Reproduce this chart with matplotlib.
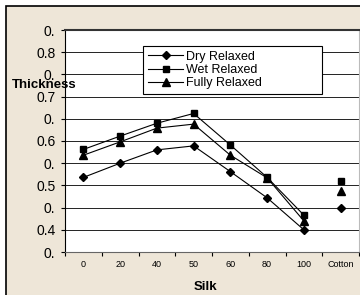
import numpy as np
import matplotlib.pyplot as plt
from matplotlib.patches import Rectangle

plt.rcParams['font.family'] = 'Liberation Sans'

# data
categories = ['0', '20', '40', '50', '60', '80', '100', 'Cotton']
dry = [0.518, 0.550, 0.580, 0.589, 0.531, 0.472, 0.400, 0.448]
wet = [0.581, 0.611, 0.640, 0.662, 0.591, 0.518, 0.433, 0.511]
fully = [0.568, 0.598, 0.629, 0.638, 0.568, 0.517, 0.420, 0.488]
ytick_vals = [0.35, 0.40, 0.45, 0.50, 0.55, 0.60, 0.65, 0.70, 0.75, 0.80, 0.85]
ytick_labels = ['0.', '0.4', '0.', '0.5', '0.', '0.6', '0.', '0.7', '0.', '0.8', '0.']

W, H = 360, 295
fig = plt.figure(figsize=(W / 100, H / 100), dpi=100)
fig.patch.set_facecolor('white')
# beige chart area with border (cropped on right/bottom)
fig.patches.append(Rectangle((6 / W, -0.5), 2, 0.5 + 1 - 5.5 / H, transform=fig.transFigure,
                             facecolor='#EEE6D8', edgecolor='black', linewidth=1.2, zorder=-10))

ax = fig.add_axes([65 / W, 1 - 252 / H, (359 - 65) / W, (252 - 30) / H])
ax.set_facecolor('white')

x = np.arange(len(categories))
n = len(categories) - 1  # cotton not joined to the silk series
styles = [(dry, 'D', 4.5, 'Dry Relaxed'), (wet, 's', 5, 'Wet Relaxed'), (fully, '^', 5.5, 'Fully Relaxed')]
for vals, m, ms, lab in styles:
    ax.plot(x[:n], vals[:n], color='black', lw=0.8, marker=m, ms=ms, mfc='black', mec='black', label=lab, zorder=3)
    ax.plot(x[n:], vals[n:], linestyle='none', marker=m, ms=ms, color='black', zorder=3)

ax.set_xlim(-0.5, len(categories) - 0.5)
ax.set_ylim(0.35, 0.85)
ax.set_yticks(ytick_vals)
ax.set_yticklabels(ytick_labels, fontsize=10)
ax.set_xticks(x)
ax.set_xticklabels(categories, fontsize=6.5)
ax.set_xticks(np.arange(len(categories) + 1) - 0.5, minor=True)
ax.tick_params(axis='x', which='major', length=0, pad=6)
ax.tick_params(axis='x', which='minor', length=3, direction='out', width=0.8)
ax.tick_params(axis='y', length=3, width=0.8, pad=4)
ax.grid(axis='y', color='#222222', linewidth=0.7, zorder=1)
ax.set_axisbelow(True)

ax.spines['left'].set_color('black')
ax.spines['top'].set_color('#333333')
ax.spines['top'].set_linewidth(1.5)
ax.spines['bottom'].set_color('#666666')
ax.spines['right'].set_color('#bbbbbb')

ax.set_xlabel('Silk', fontsize=9.5, fontweight='bold')
ax.xaxis.set_label_coords(0.478, -0.13)
fig.text(12 / W, 1 - 85 / H, 'Thickness', fontsize=9.5, fontweight='bold', ha='left', va='center')

x0 = (143 - 65) / 294
x1 = (322 - 65) / 294
y1 = (252 - 48) / 222
leg = ax.legend(loc='upper left', bbox_to_anchor=(x0, y1, x1 - x0, 0.01), mode='expand',
                fontsize=9, frameon=True, fancybox=False, borderpad=0.4, labelspacing=0.1,
                handlelength=2.8, handletextpad=0.25, borderaxespad=0)
leg.get_frame().set_edgecolor('black')
leg.get_frame().set_linewidth(0.8)
leg.get_frame().set_alpha(1)

fig.savefig('out.png', dpi=100)
